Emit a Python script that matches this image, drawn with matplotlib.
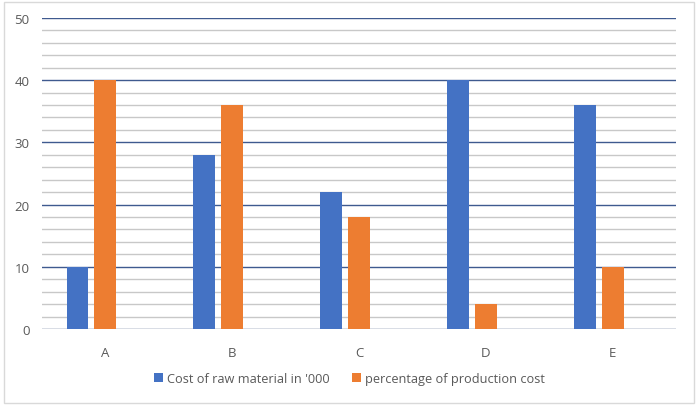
import matplotlib
matplotlib.use("Agg")
import matplotlib.pyplot as plt
from matplotlib.patches import Rectangle
import numpy as np

categories = ["A", "B", "C", "D", "E"]
raw_cost = [10, 28, 22, 40, 36]
pct_cost = [40, 36, 18, 4, 10]

plt.rcParams['font.family'] = ['Open Sans', 'DejaVu Sans']

fig = plt.figure(figsize=(7, 4.1), dpi=100)
ax = fig.add_axes([0.06, 0.195, 0.906, 0.759])

x = np.arange(len(categories))
w = 0.173
ax.bar(x - 0.22, raw_cost, w, color='#4472C4', label="Cost of raw material in '000", zorder=3)
ax.bar(x, pct_cost, w, color='#ED7D31', label='percentage of production cost', zorder=3)

ax.set_xlim(-0.5, 4.5)
ax.set_ylim(0, 50)
ax.set_yticks(range(0, 51, 10))
ax.set_yticks(range(0, 51, 2), minor=True)
ax.grid(axis='y', which='minor', color='#C8C8C8', linewidth=1, zorder=0)
ax.grid(axis='y', which='major', color='#3F5A8F', linewidth=1, zorder=1)
ax.set_xticks(x)
ax.set_xticklabels(categories)
ax.tick_params(axis='both', which='both', length=0, labelsize=9.5, colors='#595959')
ax.tick_params(axis='x', pad=12)
ax.tick_params(axis='y', pad=9)
for s in ax.spines.values():
    s.set_visible(False)
ax.axhline(0, color='#D9D9D9', linewidth=1, zorder=2)

ax.legend(loc='center', bbox_to_anchor=(0.485, -0.16), ncol=2, frameon=False,
          fontsize=9.2, handlelength=0.7, handleheight=0.7, handletextpad=0.3,
          columnspacing=1.8, labelcolor='#595959')

fig.patches.append(Rectangle((0.006, 0.015), 0.985, 0.978, transform=fig.transFigure,
                             fill=False, edgecolor='#D9D9D9', linewidth=1))

fig.savefig('out.png', dpi=100)
